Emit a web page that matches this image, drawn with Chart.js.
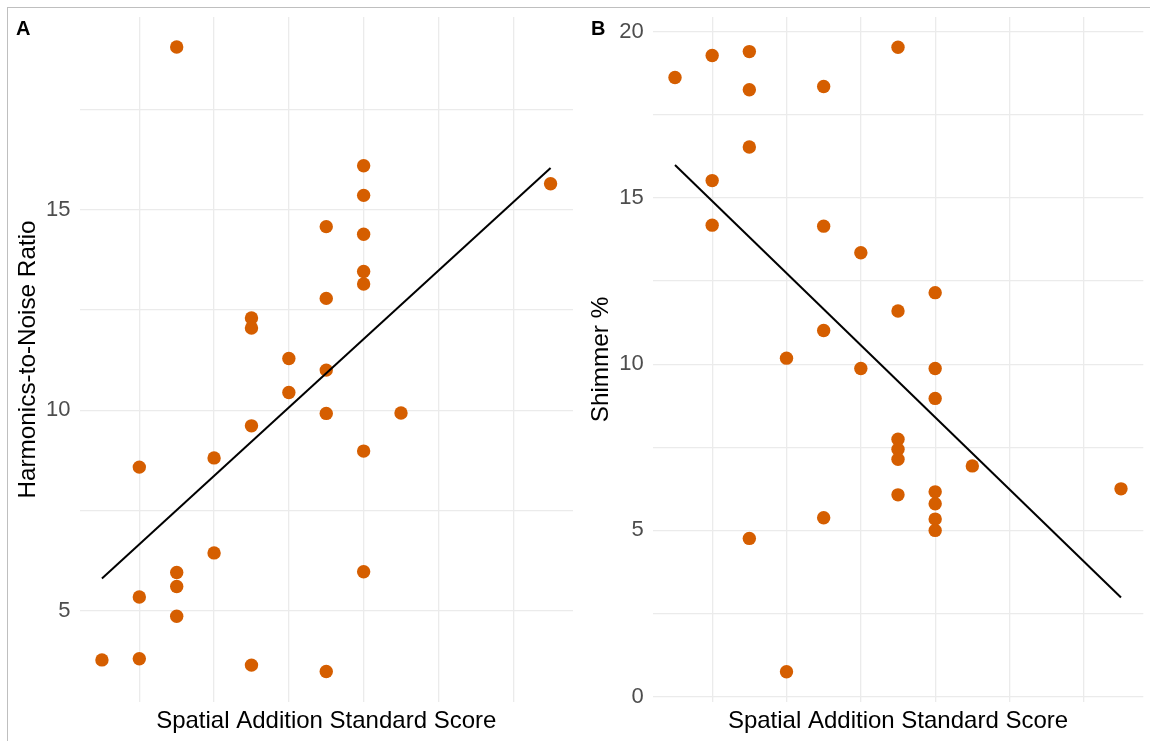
<!DOCTYPE html>
<html>
<head>
<meta charset="utf-8">
<script src="https://cdn.jsdelivr.net/npm/chart.js@4.4.1/dist/chart.umd.min.js"></script>
<style>
  html, body { margin: 0; padding: 0; background: #ffffff; }
  body { width: 1150px; height: 741px; position: relative; overflow: hidden; font-family: "Liberation Sans", Arial, sans-serif; }
  canvas { position: absolute; top: 0; }
  #ca { left: 0; }
  #cb { left: 580px; }
  .frame-top { position: absolute; left: 7px; top: 7px; width: 1143px; height: 1px; background: #bfbfbf; }
  .frame-left { position: absolute; left: 7px; top: 7px; width: 1px; height: 734px; background: #bfbfbf; }
  .tag { position: absolute; font-weight: bold; font-size: 20px; line-height: 20px; color: #000; }
</style>
</head>
<body>
<div class="frame-top"></div>
<div class="frame-left"></div>
<canvas id="ca" width="580" height="741"></canvas>
<canvas id="cb" width="570" height="741"></canvas>
<div class="tag" style="left:16px; top:18px;">A</div>
<div class="tag" style="left:591px; top:18px;">B</div>
<script>
// ---- data ----
const scoreA = [5, 6, 6, 6, 7, 7, 7, 7, 8, 8, 9, 9, 9, 9, 10, 10, 11, 11, 11, 11, 11, 12, 12, 12, 12, 12, 12, 12, 13, 17];
const hnr    = [3.77, 8.58, 5.34, 3.80, 19.06, 5.95, 5.60, 4.86, 8.81, 6.44, 12.30, 12.05, 9.61, 3.64, 10.44, 11.29, 14.58, 12.79, 11.00, 9.92, 3.48, 16.10, 15.36, 14.39, 13.46, 13.15, 8.98, 5.97, 9.93, 15.65];

const scoreB  = [5, 6, 6, 6, 7, 7, 7, 7, 8, 8, 9, 9, 9, 9, 10, 10, 11, 11, 11, 11, 11, 11, 12, 12, 12, 12, 12, 12, 12, 13, 17];
const shimmer = [18.62, 19.28, 15.52, 14.18, 19.40, 18.25, 16.53, 4.76, 10.18, 0.75, 18.35, 14.15, 11.01, 5.38, 13.35, 9.87, 19.53, 11.60, 7.74, 7.44, 7.14, 6.07, 12.15, 9.87, 8.97, 6.16, 5.80, 5.34, 5.00, 6.94, 6.25];

const fitX = [5, 17];
const fitA = [5.80, 16.04];
const fitB = [15.99, 2.98];

const gridX  = [6, 8, 10, 12, 14, 16];
const gridYA = [5, 7.5, 10, 12.5, 15, 17.5];
const gridYB = [0, 2.5, 5, 7.5, 10, 12.5, 15, 17.5, 20];
const tickLabelsA = [5, 10, 15];
const tickLabelsB = [0, 5, 10, 15, 20];

const xTitle = "Spatial Addition Standard Score";
const yTitleA = "Harmonics-to-Noise Ratio";
const yTitleB = "Shimmer %";

// ---- styling ----
const FONT = "'Liberation Sans', Arial, sans-serif";
const PT = "#D55E00";
const GRID = "#EBEBEB";

function pts(xs, ys) { return xs.map((x, i) => ({ x: x, y: ys[i] })); }

function makeChart(id, xs, ys, fit, yMin, yMax, yGrid, yLabels, yTitle, yWidth, yTitlePad, padRight) {
  return new Chart(document.getElementById(id), {
    type: 'scatter',
    data: {
      datasets: [
        {
          data: pts(fitX, fit),
          showLine: true,
          borderColor: '#000000',
          borderWidth: 2,
          pointRadius: 0,
          pointHoverRadius: 0,
          fill: false
        },
        {
          data: pts(xs, ys),
          backgroundColor: PT,
          borderWidth: 0,
          pointRadius: 6.7,
          pointHoverRadius: 6.7
        }
      ]
    },
    options: {
      responsive: false,
      maintainAspectRatio: false,
      animation: false,
      layout: { padding: { left: 0, right: padRight, top: 17, bottom: 0 } },
      plugins: { legend: { display: false }, tooltip: { enabled: false } },
      scales: {
        x: {
          type: 'linear',
          min: 4.4, max: 17.6,
          afterBuildTicks: s => { s.ticks = gridX.map(v => ({ value: v })); },
          afterFit: s => { s.height = 39; s.paddingLeft = 0; s.paddingRight = 0; s.paddingTop = 0; s.paddingBottom = 0; },
          ticks: { display: false },
          grid: { color: GRID, lineWidth: 1.3, drawTicks: false },
          border: { display: false },
          title: {
            display: true, text: xTitle, color: '#000000',
            font: { family: FONT, size: 24 },
            padding: { top: 0, bottom: 5.5 }
          }
        },
        y: {
          type: 'linear',
          min: yMin, max: yMax,
          afterBuildTicks: s => { s.ticks = yGrid.map(v => ({ value: v })); },
          afterFit: s => { s.width = yWidth; s.paddingTop = 0; s.paddingBottom = 0; s.paddingLeft = 0; s.paddingRight = 0; },
          ticks: {
            color: '#4D4D4D',
            font: { family: FONT, size: 22 },
            padding: 9,
            callback: v => yLabels.includes(v) ? String(v) : ''
          },
          grid: { color: GRID, lineWidth: 1.3, drawTicks: false },
          border: { display: false },
          title: {
            display: true, text: yTitle, color: '#000000',
            font: { family: FONT, size: 24.3 },
            padding: { top: yTitlePad, bottom: 0 }
          }
        }
      }
    }
  });
}

makeChart('ca', scoreA, hnr, fitA, 2.72, 19.81, gridYA, tickLabelsA, yTitleA, 79.5, 14.0, 7);
makeChart('cb', scoreB, shimmer, fitB, -0.16, 20.44, gridYB, tickLabelsB, yTitleB, 72.7, 6.4, 0);
</script>
</body>
</html>
